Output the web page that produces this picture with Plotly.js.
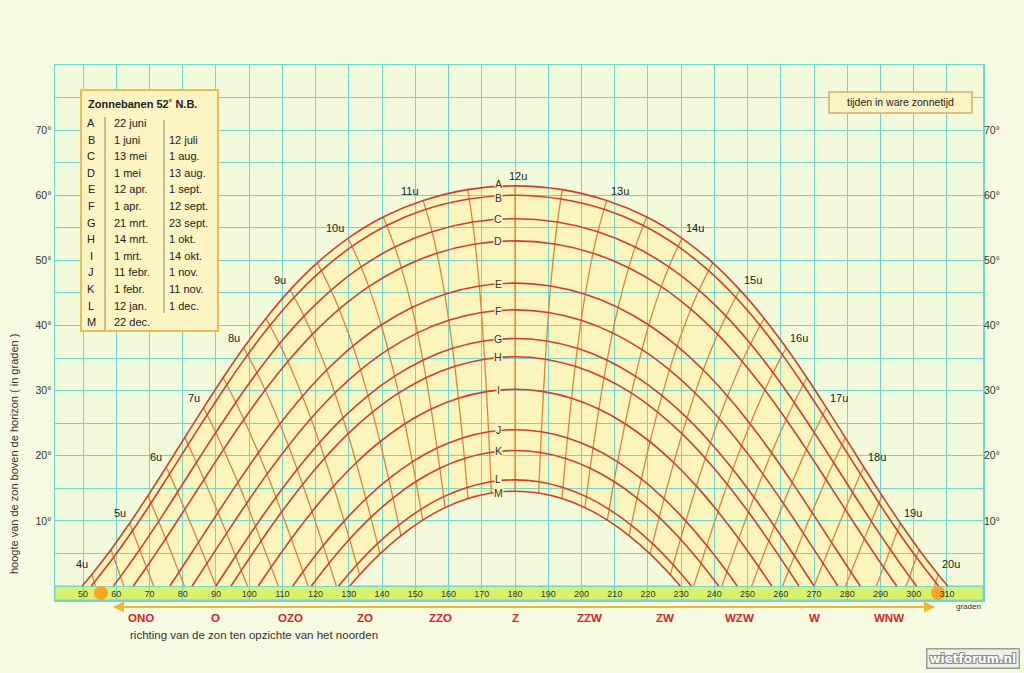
<!DOCTYPE html>
<html><head><meta charset="utf-8">
<script src="https://cdn.plot.ly/plotly-3.0.1.min.js"></script>
<style>html,body{margin:0;padding:0;background:#f6fae0;}#chart{width:1024px;height:673px;}</style>
</head><body><div id="chart"></div>
<script>
// ---- legend / labels ----
const letters = ['A','B','C','D','E','F','G','H','I','J','K','L','M'];
const dateFirst = ['22 juni','1 juni','13 mei','1 mei','12 apr.','1 apr.','21 mrt.','14 mrt.','1 mrt.','11 febr.','1 febr.','12 jan.','22 dec.'];
const dateSecond = ['','12 juli','1 aug.','13 aug.','1 sept.','12 sept.','23 sept.','1 okt.','14 okt.','1 nov.','11 nov.','1 dec.',''];
const compassAz = [67.5,90,112.5,135,157.5,180,202.5,225,247.5,270,292.5];
const compassText = ['ONO','O','OZO','ZO','ZZO','Z','ZZW','ZW','WZW','W','WNW'];
const xTicks = [50,60,70,80,90,100,110,120,130,140,150,160,170,180,190,200,210,220,230,240,250,260,270,280,290,300,310];
const yTicks = [0,5,10,15,20,25,30,35,40,45,50,55,60,65,70,75,80];
const yTickText = ['','','10°','','20°','','30°','','40°','','50°','','60°','','70°','',''];
const yTicksR = [10,20,30,40,50,60,70];
const yTickTextR = ['10°','20°','30°','40°','50°','60°','70°'];
const hourLabels = [4,5,6,7,8,9,10,11,12,13,14,15,16,17,18,19,20];

// ---- sun paths (morning half, sunrise azimuth then every half hour up to 12u) ----
const riseAz = [49.75,52.55,59.16,65.14,76.11,82.84,90.0,94.55,102.74,113.14,118.71,126.91,130.25];
const firstHour = [4,4,4.5,5,5.5,6,6.5,6.5,7,7.5,8,8.5,8.5];
const azA = [52.65,58.40,64.01,69.55,75.06,80.60,86.27,92.15,98.35,105.02,112.32,120.48,129.73,140.31,152.36,165.76,180];
const altA = [1.78,5.58,9.63,13.87,18.27,22.78,27.36,31.98,36.58,41.09,45.47,49.62,53.38,56.65,59.18,60.86,61.44];
const azB = [53.42,59.22,64.89,70.48,76.03,81.63,87.35,93.27,99.52,106.23,113.57,121.73,130.94,141.39,153.20,166.23,180];
const altB = [0.56,4.40,8.48,12.75,17.17,21.70,26.29,30.91,35.49,39.99,44.34,48.42,52.14,55.35,57.84,59.42,60.00];
const azC = [61.27,67.06,72.76,78.43,84.13,89.95,95.98,102.32,109.11,116.49,124.62,133.69,143.82,155.05,167.24,180];
const altC = [1.44,5.60,9.93,14.40,18.97,23.57,28.18,32.74,37.18,41.44,45.41,49.00,52.04,54.39,55.88,56.40];
const azD = [69.10,74.88,80.63,86.42,92.31,98.41,104.81,111.64,119.01,127.09,135.98,145.80,156.53,168.04,180];
const altD = [2.87,7.26,11.77,16.35,20.97,25.56,30.09,34.47,38.64,42.51,45.97,48.88,51.11,52.52,53.00];
const azE = [78.88,84.74,90.63,96.61,102.78,109.22,116.04,123.34,131.21,139.74,148.97,158.85,169.28,180];
const altE = [2.12,6.69,11.30,15.91,20.46,24.89,29.15,33.16,36.84,40.08,42.77,44.80,46.07,46.50];
const azF = [87.29,93.20,99.21,105.38,111.82,118.59,125.79,133.51,141.78,150.66,160.07,169.91,180];
const altF = [3.47,8.08,12.67,17.18,21.55,25.73,29.64,33.19,36.30,38.87,40.80,41.99,42.40];
const azG = [95.92,101.92,108.08,114.46,121.16,128.23,135.76,143.77,152.27,161.22,170.51,180];
const altG = [4.61,9.17,13.63,17.93,22.01,25.81,29.24,32.22,34.67,36.49,37.62,38.00];
const azH = [97.64,103.62,109.75,116.09,122.73,129.71,137.11,144.94,153.22,161.89,170.86,180];
const altH = [2.39,6.93,11.35,15.60,19.62,23.35,26.70,29.61,31.98,33.74,34.83,35.20];
const azI = [106.62,112.67,118.91,125.41,132.22,139.37,146.89,154.78,162.98,171.42,180];
const altI = [2.92,7.27,11.42,15.33,18.93,22.15,24.92,27.17,28.83,29.85,30.20];
const azJ = [116.22,122.30,128.59,135.15,141.98,149.11,156.53,164.20,172.05,180];
const altJ = [2.18,6.20,9.96,13.40,16.46,19.07,21.18,22.73,23.68,24.00];
const azK = [124.02,130.19,136.60,143.27,150.20,157.38,164.79,172.35,180];
const altK = [3.50,7.18,10.54,13.51,16.04,18.08,19.58,20.49,20.80];
const azL = [132.41,138.60,145.02,151.67,158.53,165.57,172.75,180];
const altL = [3.26,6.50,9.35,11.77,13.72,15.14,16.01,16.30];
const azM = [133.26,139.37,145.69,152.22,158.96,165.87,172.90,180];
const altM = [1.74,4.93,7.74,10.12,12.03,13.42,14.27,14.56];
// hour lines that reach the horizon: where they cross it
const horizonHours = [4,4.5,5,5.5,6,6.5,7,7.5,8];
const horizonAz = [53.76,62.28,71.22,80.52,90.0,99.48,108.78,117.72,126.24];
const halfHours = [4,4.5,5,5.5,6,6.5,7,7.5,8,8.5,9,9.5,10,10.5,11,11.5,12];
const markerAz = [55.4,307.3];
const markerAlt = [-1.07,-1.07];

const pathAz = [azA,azB,azC,azD,azE,azF,azG,azH,azI,azJ,azK,azL,azM];
const pathAlt = [altA,altB,altC,altD,altE,altF,altG,altH,altI,altJ,altK,altL,altM];

// ---- geometry helpers (layout) ----
const W=1024,H=673,ML=55,MR=41,MT=65,MB=73;
const PW=W-ML-MR, PH=H-MT-MB;
const px = v => (v-ML)/PW;
const py = v => (H-MB-v)/PH;
const XR = [41.57,320.84], YR = [-2.15,80];
const letterShift = [3,-2,0,0,0,0,0,0,0,0,0,2,-1];

function fullDay(i){
  const xs=[riseAz[i]], ys=[0];
  const a=pathAz[i], h=pathAlt[i];
  for(let k=0;k<a.length;k++){xs.push(a[k]);ys.push(h[k]);}
  for(let k=a.length-2;k>=0;k--){xs.push(360-a[k]);ys.push(h[k]);}
  xs.push(360-riseAz[i]);ys.push(0);
  return {xs,ys};
}
function hourPts(t){
  const pts=[];
  for(let i=0;i<letters.length;i++){
    const idx=(t-firstHour[i])/0.5;
    if(idx>=0 && idx<pathAz[i].length) pts.push([pathAz[i][idx],pathAlt[i][idx]]);
  }
  const hi=horizonHours.indexOf(t);
  if(hi>=0) pts.push([horizonAz[hi],0]);
  return pts;
}

const dX=[],dY=[];
letters.forEach((l,i)=>{const f=fullDay(i);dX.push(...f.xs,null);dY.push(...f.ys,null);});
const hX=[],hY=[];
halfHours.forEach(t=>{
  const p=hourPts(t);
  p.forEach(q=>{hX.push(q[0]);hY.push(q[1]);}); hX.push(null);hY.push(null);
  if(t<12){p.forEach(q=>{hX.push(360-q[0]);hY.push(q[1]);}); hX.push(null);hY.push(null);}
});
const fa=fullDay(0), fm=fullDay(12);
const poly=[];
for(let k=0;k<fa.xs.length;k++) poly.push([fa.xs[k],fa.ys[k]]);
for(let k=fm.xs.length-1;k>=0;k--) poly.push([fm.xs[k],fm.ys[k]]);
const fillPath='M '+poly.map(p=>p[0]+','+p[1]).join(' L ')+' Z';

const GRID='#6fd5cf', RED='#d63c2b', ORANGE='#d9853f', YEL='#fbf5bd';
const FONT='Liberation Sans, Arial, sans-serif';

const traces=[
  {x:hX,y:hY,mode:'lines',line:{color:ORANGE,width:1.3,shape:'spline',smoothing:0.8},hoverinfo:'skip',connectgaps:false},
  {x:dX,y:dY,mode:'lines',line:{color:RED,width:1.6,shape:'spline',smoothing:0.8},hoverinfo:'skip',connectgaps:false},
  {x:markerAz,y:markerAlt,yaxis:'y2',mode:'markers',marker:{color:'#f7a623',size:14},hoverinfo:'skip'}
];

const shapes=[
  {type:'path',path:fillPath,xref:'x',yref:'y',fillcolor:YEL,line:{width:0},layer:'below'},
  {type:'rect',xref:'paper',yref:'y',x0:0,x1:1,y0:YR[0],y1:0,fillcolor:'#daf26b',line:{color:GRID,width:1},layer:'between'},
  {type:'rect',xref:'paper',yref:'paper',x0:px(81),x1:px(218),y0:py(90),y1:py(331),fillcolor:'#fdf4c3',line:{color:'#e7bd55',width:2},layer:'above'},
  {type:'line',xref:'paper',yref:'paper',x0:px(105),x1:px(105),y0:py(117),y1:py(330),line:{color:'#8a8a7a',width:1},layer:'above'},
  {type:'line',xref:'paper',yref:'paper',x0:px(164),x1:px(164),y0:py(120),y1:py(313),line:{color:'#8a8a7a',width:1},layer:'above'},
  {type:'rect',xref:'paper',yref:'paper',x0:px(829),x1:px(972),y0:py(92),y1:py(113),fillcolor:'#fcf2c4',line:{color:'#c9b46d',width:1.5},layer:'above'},
  {type:'line',xref:'paper',yref:'paper',x0:px(120),x1:px(928),y0:py(607),y1:py(607),line:{color:'#f4b630',width:2},layer:'above'}
];

const ann=[];
ann.push({xref:'paper',yref:'paper',x:px(86),y:py(104),xanchor:'left',yanchor:'middle',showarrow:false,text:'<b>Zonnebanen 52˚ N.B.</b>',font:{family:FONT,size:11,color:'#222'}});
letters.forEach((l,i)=>{
  const yy=py(123+i*16.6);
  ann.push({xref:'paper',yref:'paper',x:px(91),y:yy,xanchor:'center',yanchor:'middle',showarrow:false,text:l,font:{family:FONT,size:11,color:'#222'}});
  ann.push({xref:'paper',yref:'paper',x:px(112),y:yy,xanchor:'left',yanchor:'middle',showarrow:false,text:dateFirst[i],font:{family:FONT,size:11,color:'#222'}});
  if(dateSecond[i]) ann.push({xref:'paper',yref:'paper',x:px(167),y:yy,xanchor:'left',yanchor:'middle',showarrow:false,text:dateSecond[i],font:{family:FONT,size:11,color:'#222'}});
  const n=pathAlt[i].length;
  ann.push({xref:'x',yref:'y',x:175,y:pathAlt[i][n-1]-0.1,yshift:letterShift[i],xanchor:'center',yanchor:'middle',showarrow:false,text:l,bgcolor:YEL,borderpad:0,font:{family:FONT,size:10.5,color:'#333'}});
});
ann.push({xref:'paper',yref:'paper',x:px(900.5),y:py(102.5),xanchor:'center',yanchor:'middle',showarrow:false,text:'tijden in ware zonnetijd',font:{family:FONT,size:10.5,color:'#222'}});
hourLabels.forEach(h=>{
  let x,y,xa,xs;
  if(h<=12){const idx=(h-4)/0.5;x=azA[idx];y=altA[idx];}
  else {const idx=(24-h-4)/0.5;x=360-azA[idx];y=altA[idx];}
  if(h<12){xa='right';xs=-2;} else if(h>12){xa='left';xs=2;} else {xa='center';xs=3;}
  ann.push({xref:'x',yref:'y',x:x,y:y,xanchor:xa,yanchor:'bottom',xshift:xs,yshift:2,showarrow:false,text:h+'u',font:{family:FONT,size:11,color:'#222'}});
});
compassAz.forEach((a,i)=>{
  ann.push({xref:'x',yref:'paper',x:a,y:py(618),xanchor:'center',yanchor:'middle',showarrow:false,text:'<b>'+compassText[i]+'</b>',font:{family:FONT,size:11.5,color:'#d6242a'}});
});
ann.push({xref:'paper',yref:'paper',x:px(113),y:py(607),ax:40,ay:0,showarrow:true,arrowhead:2,arrowsize:1.1,arrowwidth:2,arrowcolor:'#f4b630',text:''});
ann.push({xref:'paper',yref:'paper',x:px(935),y:py(607),ax:-40,ay:0,showarrow:true,arrowhead:2,arrowsize:1.1,arrowwidth:2,arrowcolor:'#f4b630',text:''});
ann.push({xref:'paper',yref:'paper',x:px(128),y:py(635),xanchor:'left',yanchor:'middle',showarrow:false,text:'richting van de zon ten opzichte van het noorden',font:{family:FONT,size:11.5,color:'#333'}});
ann.push({xref:'paper',yref:'paper',x:px(968),y:py(606),xanchor:'center',yanchor:'middle',showarrow:false,text:'graden',font:{family:FONT,size:8,color:'#333'}});
ann.push({xref:'paper',yref:'paper',x:px(14),y:py(454),xanchor:'center',yanchor:'middle',textangle:-90,showarrow:false,text:'hoogte van de zon boven de horizon ( in graden )',font:{family:FONT,size:11,color:'#333'}});
ann.push({xref:'paper',yref:'paper',x:px(973),y:py(658),xanchor:'center',yanchor:'middle',showarrow:false,text:'<b>wietforum.nl</b>',bgcolor:'#eef2e1',bordercolor:'#9c9c9c',borderwidth:1.5,borderpad:2,font:{family:'DejaVu Sans, sans-serif',size:12,color:'#ffffff',shadow:'-1px -1px 0 #8a8a8a, 1px -1px 0 #8a8a8a, -1px 1px 0 #8a8a8a, 1px 1px 0 #8a8a8a'}});

const layout={
  width:W,height:H,margin:{l:ML,r:MR,t:MT,b:MB,pad:0},
  paper_bgcolor:'#f6fae0',plot_bgcolor:'#f3f9db',showlegend:false,
  xaxis:{range:XR,tickvals:xTicks,ticktext:xTicks.map(String),showgrid:true,gridcolor:GRID,gridwidth:1,
    showline:true,mirror:true,linecolor:GRID,linewidth:1.5,zeroline:false,ticks:'',ticklabelposition:'inside',
    tickfont:{family:FONT,size:9,color:'#333'},fixedrange:true},
  yaxis:{range:YR,tickvals:yTicks,ticktext:yTickText,showgrid:true,gridcolor:GRID,gridwidth:1,
    showline:true,mirror:true,linecolor:GRID,linewidth:1.5,zeroline:false,ticks:'',
    tickfont:{family:FONT,size:10.5,color:'#333'},fixedrange:true},
  yaxis2:{range:YR,overlaying:'y',side:'right',tickvals:yTicksR,ticktext:yTickTextR,showgrid:false,zeroline:false,
    showline:false,ticks:'',tickfont:{family:FONT,size:10.5,color:'#333'},fixedrange:true},
  shapes:shapes,annotations:ann
};
Plotly.newPlot('chart',traces,layout,{staticPlot:true,displayModeBar:false});
</script></body></html>
